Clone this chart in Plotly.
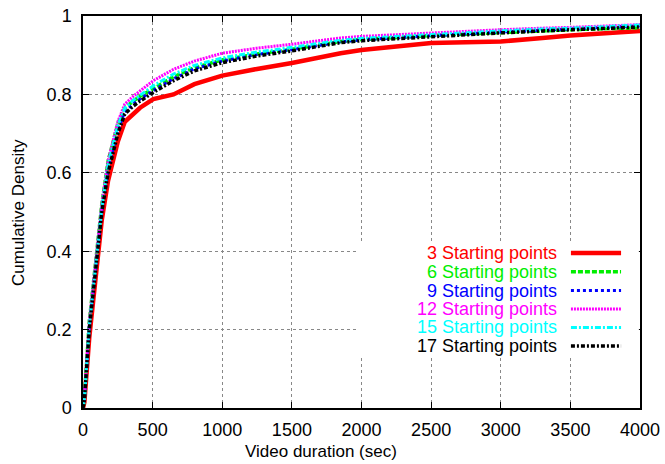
import plotly.graph_objects as go

# Video duration (sec) sample points shared by all CDF curves
duration = [0, 10, 45, 75, 105, 135, 180, 250, 300, 360, 410, 505, 650, 800,
            1000, 1250, 1500, 1850, 2000, 2500, 3000, 3300, 3500, 4000]

# Cumulative density for each number of starting points
cdf_3 = [0, 0.015, 0.18, 0.28, 0.38, 0.48, 0.58, 0.68, 0.73, 0.75, 0.766, 0.788,
         0.80, 0.826, 0.848, 0.865, 0.88, 0.905, 0.913, 0.931, 0.935, 0.944, 0.950, 0.962]
cdf_6 = [0, 0.025, 0.22, 0.32, 0.42, 0.52, 0.63, 0.725, 0.765, 0.783, 0.795, 0.815,
         0.845, 0.868, 0.888, 0.903, 0.915, 0.935, 0.94, 0.95, 0.958, 0.963, 0.965, 0.970]
cdf_9 = [0, 0.02, 0.205, 0.305, 0.405, 0.505, 0.61, 0.71, 0.755, 0.775, 0.788, 0.81,
         0.84, 0.865, 0.885, 0.902, 0.914, 0.934, 0.939, 0.95, 0.959, 0.964, 0.967, 0.975]
cdf_12 = [0, 0.025, 0.22, 0.32, 0.42, 0.52, 0.63, 0.73, 0.775, 0.795, 0.809, 0.835,
          0.864, 0.885, 0.905, 0.918, 0.928, 0.944, 0.948, 0.957, 0.965, 0.969, 0.971, 0.978]
cdf_15 = [0, 0.022, 0.21, 0.31, 0.41, 0.51, 0.62, 0.72, 0.765, 0.785, 0.798, 0.822,
          0.852, 0.874, 0.893, 0.908, 0.92, 0.938, 0.943, 0.953, 0.962, 0.967, 0.969, 0.977]
cdf_17 = [0, 0.02, 0.2, 0.3, 0.4, 0.5, 0.6, 0.7, 0.75, 0.77, 0.783, 0.805,
          0.835, 0.86, 0.881, 0.898, 0.911, 0.932, 0.937, 0.948, 0.957, 0.962, 0.965, 0.972]

labels = ["3 Starting points", "6 Starting points", "9 Starting points",
          "12 Starting points", "15 Starting points", "17 Starting points"]
x_ticks = [0, 500, 1000, 1500, 2000, 2500, 3000, 3500, 4000]
y_ticks = [0, 0.2, 0.4, 0.6, 0.8, 1]

series = [cdf_3, cdf_6, cdf_9, cdf_12, cdf_15, cdf_17]
colors = ["#ff0000", "#00ee00", "#0000ff", "#ff00ff", "#00ffff", "#000000"]
dashes = ["solid", "5px,2px", "3px,3px", "2px,1px", "6px,2px,2px,2px", "4px,2px,2px,2px"]
widths = [4.5, 3.5, 3, 3, 3, 3.5]

font = "Liberation Sans, Arial, Helvetica, sans-serif"

fig = go.Figure()
for ys, name, c, d, w in zip(series, labels, colors, dashes, widths):
    fig.add_trace(go.Scatter(x=duration, y=ys, mode="lines", name=name,
                             line=dict(color=c, dash=d, width=w),
                             showlegend=False))

# Legend drawn inside the plot on a blank box that hides the grid behind it
fig.add_shape(type="rect", xref="paper", yref="paper",
              x0=0.4937, x1=0.998, y0=0.1352, y1=0.4209,
              fillcolor="white", line=dict(width=0), layer="above")

row_y = [0.3954, 0.3477, 0.2997, 0.2526, 0.2054, 0.1582]
for name, c, d, w, yy in zip(labels, colors, dashes, widths, row_y):
    fig.add_annotation(x=0.853, y=yy, xref="paper", yref="paper", text=name,
                       showarrow=False, xanchor="right", yanchor="middle",
                       borderpad=0,
                       font=dict(family=font, size=18, color=c))
    fig.add_shape(type="line", xref="paper", yref="paper",
                  x0=0.876, x1=0.966, y0=yy, y1=yy,
                  line=dict(color=c, dash=d, width=w))

# Axis titles
fig.add_annotation(x=0.427, y=-0.112, xref="paper", yref="paper",
                   text="Video duration (sec)", showarrow=False,
                   xanchor="center", yanchor="middle",
                   font=dict(family=font, size=17, color="black"))
fig.add_annotation(x=-0.1167, y=0.5, xref="paper", yref="paper",
                   text="Cumulative Density", showarrow=False, textangle=-90,
                   xanchor="center", yanchor="middle",
                   font=dict(family=font, size=17, color="black"))

axis_common = dict(
    showline=True, linecolor="black", linewidth=1.5, mirror="allticks",
    ticks="inside", ticklen=6, tickcolor="black",
    showgrid=True, gridcolor="#888888", griddash="dot", gridwidth=1,
    zeroline=False, automargin=False,
    tickfont=dict(family=font, size=18, color="black"),
)

fig.update_xaxes(range=[0, 4000], tickvals=x_ticks, ticklabelstandoff=5, **axis_common)
fig.update_yaxes(range=[0, 1], tickvals=y_ticks, ticklabelstandoff=6, **axis_common)

fig.update_layout(width=665, height=464,
                  margin=dict(l=83, r=25, t=16, b=56),
                  paper_bgcolor="white", plot_bgcolor="white",
                  font=dict(family=font))

fig.write_html("out.html")
